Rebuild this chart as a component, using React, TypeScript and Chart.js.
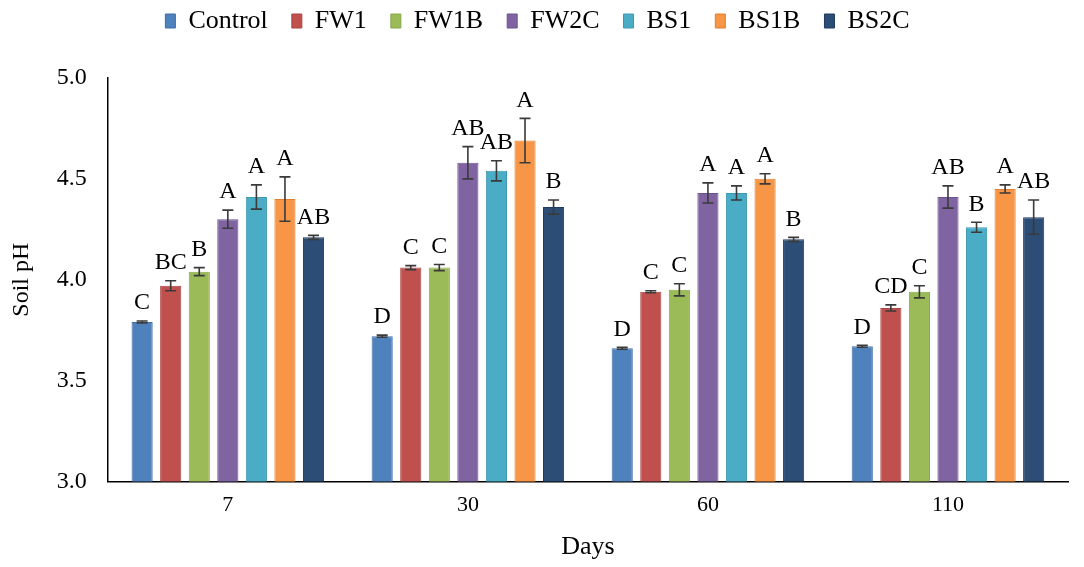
import { useEffect, useRef } from 'react'
import { Chart, registerables } from 'chart.js'
import type { Plugin } from 'chart.js'
Chart.register(...registerables)

const days = ['7', '30', '60', '110']
const treatments = ['Control', 'FW1', 'FW1B', 'FW2C', 'BS1', 'BS1B', 'BS2C']

// mean soil pH per treatment, one value per day
const control = [3.79, 3.72, 3.66, 3.67]
const fw1 = [3.97, 4.06, 3.94, 3.86]
const fw1b = [4.04, 4.06, 3.95, 3.94]
const fw2c = [4.3, 4.58, 4.43, 4.41]
const bs1 = [4.41, 4.54, 4.43, 4.26]
const bs1b = [4.4, 4.69, 4.5, 4.45]
const bs2c = [4.21, 4.36, 4.2, 4.31]

// standard errors
const controlErr = [0.005, 0.005, 0.005, 0.005]
const fw1Err = [0.025, 0.01, 0.005, 0.015]
const fw1bErr = [0.02, 0.015, 0.03, 0.03]
const fw2cErr = [0.045, 0.08, 0.05, 0.055]
const bs1Err = [0.06, 0.05, 0.035, 0.025]
const bs1bErr = [0.11, 0.11, 0.025, 0.02]
const bs2cErr = [0.01, 0.035, 0.01, 0.085]

// significance letters
const controlSig = ['C', 'D', 'D', 'D']
const fw1Sig = ['BC', 'C', 'C', 'CD']
const fw1bSig = ['B', 'C', 'C', 'C']
const fw2cSig = ['A', 'AB', 'A', 'AB']
const bs1Sig = ['A', 'AB', 'A', 'B']
const bs1bSig = ['A', 'A', 'A', 'A']
const bs2cSig = ['AB', 'B', 'B', 'AB']

const yTicks = [3.0, 3.5, 4.0, 4.5, 5.0]

const fills = ['#4F81BD', '#C0504D', '#9BBB59', '#8064A2', '#4BACC6', '#F79646', '#2C4D75']
const borders = ['#3E6DA6', '#A94441', '#87A74A', '#6D5290', '#3D98B2', '#E07F2F', '#1F3A5C']

const values = [control, fw1, fw1b, fw2c, bs1, bs1b, bs2c]
const errors = [controlErr, fw1Err, fw1bErr, fw2cErr, bs1Err, bs1bErr, bs2cErr]
const letters = [controlSig, fw1Sig, fw1bSig, fw2cSig, bs1Sig, bs1bSig, bs2cSig]

const serif = '"Liberation Serif", "Times New Roman", serif'

const errorBars: Plugin<'bar'> = {
  id: 'errorBars',
  afterDatasetsDraw(chart) {
    const { ctx } = chart
    const y = chart.scales.y
    ctx.save()
    chart.data.datasets.forEach((_, di) => {
      const meta = chart.getDatasetMeta(di)
      meta.data.forEach((bar, i) => {
        const v = values[di][i]
        const e = errors[di][i]
        const top = y.getPixelForValue(v + e)
        const bot = y.getPixelForValue(v - e)
        const x = bar.x
        ctx.strokeStyle = '#3a3a3a'
        ctx.lineWidth = 1.6
        ctx.beginPath()
        ctx.moveTo(x, top)
        ctx.lineTo(x, bot)
        ctx.moveTo(x - 5.5, top)
        ctx.lineTo(x + 5.5, top)
        ctx.moveTo(x - 5.5, bot)
        ctx.lineTo(x + 5.5, bot)
        ctx.stroke()
        ctx.fillStyle = '#000'
        ctx.font = `24px ${serif}`
        ctx.textAlign = 'center'
        ctx.textBaseline = 'bottom'
        ctx.fillText(letters[di][i], x, top - 6)
      })
    })
    ctx.restore()
  },
}

export default function App() {
  const chartRef = useRef<HTMLCanvasElement>(null)
  const chartInstance = useRef<Chart | null>(null)

  useEffect(() => {
    if (!chartRef.current) return
    if (chartInstance.current) chartInstance.current.destroy()
    const ctx = chartRef.current.getContext('2d')
    if (!ctx) return

    chartInstance.current = new Chart(ctx, {
      type: 'bar',
      data: {
        labels: days,
        datasets: treatments.map((t, i) => ({
          label: t,
          data: values[i],
          backgroundColor: fills[i],
          borderColor: borders[i],
          borderWidth: 1,
          categoryPercentage: 0.833,
          barPercentage: 0.74,
        })),
      },
      options: {
        animation: false,
        responsive: true,
        maintainAspectRatio: false,
        layout: { padding: { left: 7, right: 16, top: -16, bottom: 4 } },
        plugins: {
          legend: {
            position: 'top',
            weight: 3000,
            labels: {
              boxWidth: 10,
              boxHeight: 14,
              padding: 24,
              color: '#000',
              font: { family: serif, size: 26 },
            },
          },
          // spacer between the legend and the plot
          title: {
            display: true,
            text: ' ',
            font: { size: 10 },
            padding: { top: 13, bottom: 9 },
          },
          tooltip: { enabled: false },
        },
        scales: {
          x: {
            grid: { display: false },
            border: { display: true, color: '#000', width: 1.5 },
            ticks: { color: '#000', font: { family: serif, size: 22 }, padding: 3 },
            title: {
              display: true,
              text: 'Days',
              color: '#000',
              font: { family: serif, size: 26 },
              padding: { top: 10, bottom: 0 },
            },
          },
          y: {
            min: 3,
            max: 5,
            grid: { display: false },
            border: { display: true, color: '#000', width: 1.5 },
            afterBuildTicks: (axis) => {
              axis.ticks = yTicks.map((v) => ({ value: v }))
            },
            ticks: {
              color: '#000',
              font: { family: serif, size: 24 },
              padding: 13,
              callback: (v) => Number(v).toFixed(1),
            },
            title: {
              display: true,
              text: 'Soil pH',
              color: '#000',
              font: { family: serif, size: 24 },
              padding: { top: 0, bottom: 8 },
            },
          },
        },
      },
      plugins: [errorBars],
    })

    return () => {
      if (chartInstance.current) {
        chartInstance.current.destroy()
        chartInstance.current = null
      }
    }
  }, [])

  return (
    <div style={{ position: 'fixed', left: 0, top: 0, width: 1084, height: 567, background: '#fff' }}>
      <canvas ref={chartRef} />
    </div>
  )
}
